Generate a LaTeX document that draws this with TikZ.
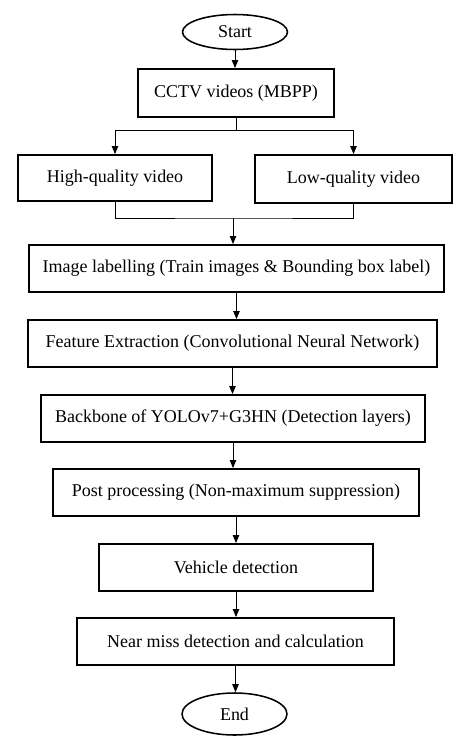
\documentclass[tikz,border=0pt]{standalone}
\usepackage{fontspec}
\setmainfont{Liberation Serif}
\usetikzlibrary{shapes.geometric,arrows.meta}

\begin{document}
\begin{tikzpicture}[
        font=\fontsize{12.8}{15}\selectfont,
        process/.style={draw, line width=1.3pt, rectangle, minimum height=1.175cm, inner sep=2pt},
        terminal/.style={draw, line width=1.1pt, ellipse, minimum width=2.625cm, inner sep=0pt},
        flow/.style={line width=0.7pt},
        >={Triangle[length=2mm,width=1.6mm]}
    ]
        \useasboundingbox (0,0) rectangle (11.725,-18.55);

        \node[terminal, minimum height=0.875cm] at (5.875,-0.8) (start) {Start};
        \node[process, minimum width=4.9cm, minimum height=1.2cm] at (5.9,-2.325) (cctv) {CCTV videos (MBPP)};
        \node[process, minimum width=4.85cm, minimum height=1.15cm] at (2.875,-4.45) (high) {High-quality video};
        \node[process, minimum width=4.925cm, minimum height=1.2cm] at (8.8375,-4.475) (low) {Low-quality video};
        \node[process, minimum width=10.375cm] at (5.9125,-6.7125) (label) {Image labelling (Train images \& Bounding box label)};
        \node[process, minimum width=10.225cm] at (5.8125,-8.5875) (feat) {Feature Extraction (Convolutional Neural Network)};
        \node[process, minimum width=9.6cm] at (5.825,-10.4625) (backbone) {Backbone of YOLOv7+G3HN (Detection layers)};
        \node[process, minimum width=9.15cm] at (5.9,-12.3125) (post) {Post processing (Non-maximum suppression)};
        \node[process, minimum width=6.85cm] at (5.9,-14.1875) (vehicle) {Vehicle detection};
        \node[process, minimum width=7.925cm] at (5.8875,-16.0375) (nearmiss) {Near miss detection and calculation};
        \node[terminal, minimum height=1.05cm] at (5.8625,-17.85) (end) {End};

        \coordinate (split) at (5.9,-3.25);
        \coordinate (merge) at (5.825,-5.45);

        \draw [flow,->] (start) -- (start |- cctv.north);
        \draw [flow] (cctv) -- (split);
        \draw [flow,->] (split) -| (high);
        \draw [flow,->] (split) -| (low);
        \draw [flow] (high) |- (merge) -| (low);
        \draw [flow,->] (merge) -- (merge |- label.north);
        \draw [flow,->] (label) -- (label |- feat.north);
        \draw [flow,->] (feat) -- (feat |- backbone.north);
        \draw [flow,->] (backbone) -- (backbone |- post.north);
        \draw [flow,->] (post) -- (post |- vehicle.north);
        \draw [flow,->] (vehicle) -- (vehicle |- nearmiss.north);
        \draw [flow,->] (nearmiss) -- (nearmiss |- end.north);
    \end{tikzpicture}
\end{document}
